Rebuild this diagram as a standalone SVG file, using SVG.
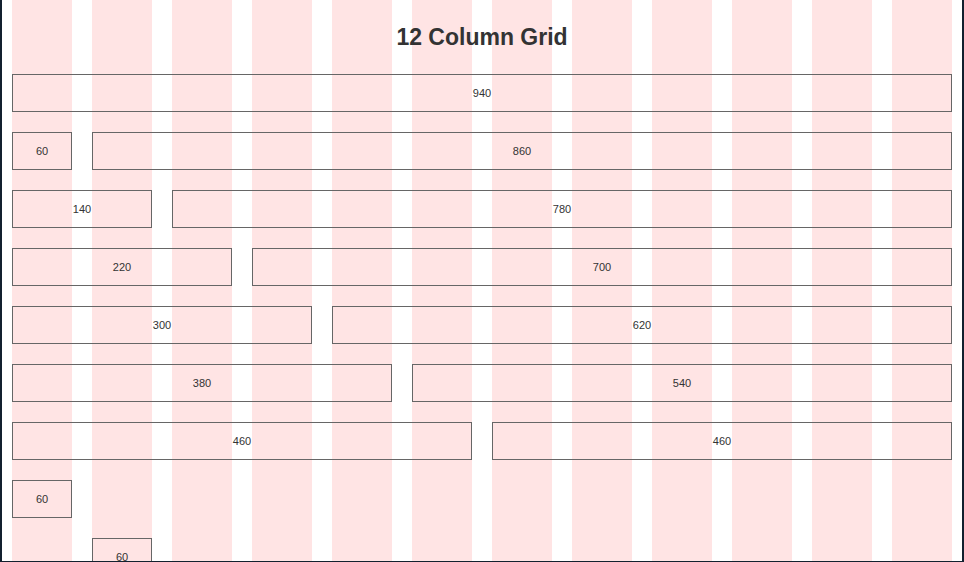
<svg xmlns="http://www.w3.org/2000/svg" width="964" height="562" viewBox="0 0 964 562">
<style>
.col{fill:#ffe4e4}
.box{fill:none;stroke:#666;stroke-width:1}
.lbl{font-family:"Liberation Sans",Arial,sans-serif;font-size:11px;fill:#333;text-anchor:middle}
.title{font-family:"Liberation Sans",Arial,sans-serif;font-size:23px;font-weight:bold;fill:#333;text-anchor:middle}
</style>
<rect width="964" height="562" fill="#fff"/>
<g id="columns">
<rect class="col" x="12" y="0" width="60" height="562"/>
<rect class="col" x="92" y="0" width="60" height="562"/>
<rect class="col" x="172" y="0" width="60" height="562"/>
<rect class="col" x="252" y="0" width="60" height="562"/>
<rect class="col" x="332" y="0" width="60" height="562"/>
<rect class="col" x="412" y="0" width="60" height="562"/>
<rect class="col" x="492" y="0" width="60" height="562"/>
<rect class="col" x="572" y="0" width="60" height="562"/>
<rect class="col" x="652" y="0" width="60" height="562"/>
<rect class="col" x="732" y="0" width="60" height="562"/>
<rect class="col" x="812" y="0" width="60" height="562"/>
<rect class="col" x="892" y="0" width="60" height="562"/>
</g>
<text class="title" x="482" y="45">12 Column Grid</text>
<g id="row0"><rect class="box" x="12.5" y="74.5" width="939" height="37"/><text class="lbl" x="482" y="97">940</text></g>
<g id="row1a"><rect class="box" x="12.5" y="132.5" width="59" height="37"/><text class="lbl" x="42" y="155">60</text></g>
<g id="row1b"><rect class="box" x="92.5" y="132.5" width="859" height="37"/><text class="lbl" x="522" y="155">860</text></g>
<g id="row2a"><rect class="box" x="12.5" y="190.5" width="139" height="37"/><text class="lbl" x="82" y="213">140</text></g>
<g id="row2b"><rect class="box" x="172.5" y="190.5" width="779" height="37"/><text class="lbl" x="562" y="213">780</text></g>
<g id="row3a"><rect class="box" x="12.5" y="248.5" width="219" height="37"/><text class="lbl" x="122" y="271">220</text></g>
<g id="row3b"><rect class="box" x="252.5" y="248.5" width="699" height="37"/><text class="lbl" x="602" y="271">700</text></g>
<g id="row4a"><rect class="box" x="12.5" y="306.5" width="299" height="37"/><text class="lbl" x="162" y="329">300</text></g>
<g id="row4b"><rect class="box" x="332.5" y="306.5" width="619" height="37"/><text class="lbl" x="642" y="329">620</text></g>
<g id="row5a"><rect class="box" x="12.5" y="364.5" width="379" height="37"/><text class="lbl" x="202" y="387">380</text></g>
<g id="row5b"><rect class="box" x="412.5" y="364.5" width="539" height="37"/><text class="lbl" x="682" y="387">540</text></g>
<g id="row6a"><rect class="box" x="12.5" y="422.5" width="459" height="37"/><text class="lbl" x="242" y="445">460</text></g>
<g id="row6b"><rect class="box" x="492.5" y="422.5" width="459" height="37"/><text class="lbl" x="722" y="445">460</text></g>
<g id="row7"><rect class="box" x="12.5" y="480.5" width="59" height="37"/><text class="lbl" x="42" y="503">60</text></g>
<g id="row8"><rect class="box" x="92.5" y="538.5" width="59" height="37"/><text class="lbl" x="122" y="561">60</text></g>
<g id="frame">
<rect x="0" y="0" width="2" height="562" fill="#13202f"/>
<rect x="962" y="0" width="2" height="562" fill="#13202f"/>
<rect x="0" y="561" width="964" height="1" fill="#13202f"/>
</g>
</svg>
